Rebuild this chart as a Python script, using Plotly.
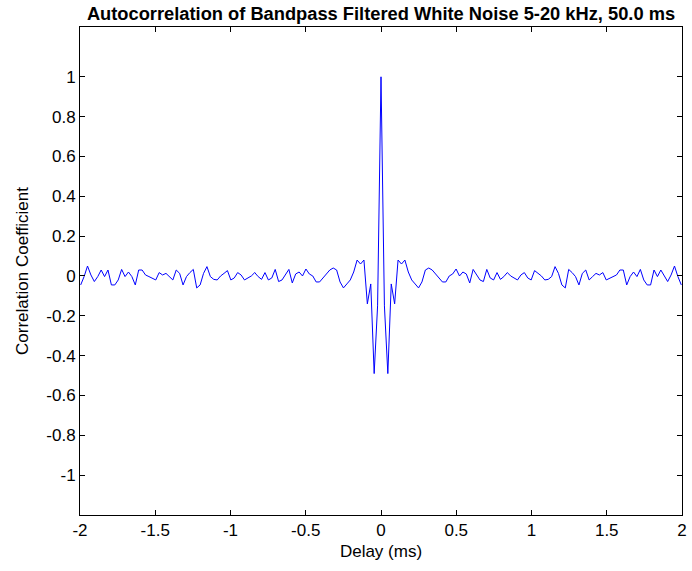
import numpy as np
import plotly.graph_objects as go

# Sample rate of the noise (kHz) -> delay step of one sample in ms
fs_khz = 44.1

# Autocorrelation values for non-negative lags k = 0..88 (symmetric about 0)
corr_center = [1.00, -0.15, -0.49, -0.04, -0.14, 0.08, 0.06, 0.08, 0.02, -0.02,
               -0.04, -0.06, -0.03, 0.03, 0.04, 0.03, 0.01]
corr_mid = [-0.01, -0.03, -0.03, 0.00, 0.01, 0.035, 0.00, 0.02, 0.01, -0.035,
            0.033, 0.005, -0.02, -0.028, 0.033, -0.01, -0.02, 0.017, -0.017, -0.003,
            0.017, 0.00, -0.012, -0.02, 0.005, 0.017, -0.01, -0.02, 0.027, 0.013,
            0.00, -0.02, -0.017, -0.003, 0.047, 0.013]
corr_tail = [-0.045, -0.06, 0.033, 0.017, -0.003, -0.045, 0.013, 0.03, -0.02, -0.003,
             0.013, 0.005, 0.017, -0.02, -0.012, -0.003, 0.005, 0.03, 0.03, -0.045,
             -0.003, 0.02, -0.003, 0.033, -0.02, -0.045, -0.045, 0.03, -0.003, 0.03,
             -0.003, -0.028, 0.005, 0.05, -0.003, -0.045]

x_tick_vals = [-2, -1.5, -1, -0.5, 0, 0.5, 1, 1.5, 2]
x_tick_text = ["-2", "-1.5", "-1", "-0.5", "0", "0.5", "1", "1.5", "2"]
y_tick_vals = [-1, -0.8, -0.6, -0.4, -0.2, 0, 0.2, 0.4, 0.6, 0.8, 1]
y_tick_text = ["-1", "-0.8", "-0.6", "-0.4", "-0.2", "0", "0.2", "0.4", "0.6", "0.8", "1"]

title_text = "Autocorrelation of Bandpass Filtered White Noise 5-20 kHz, 50.0 ms"
x_label = "Delay (ms)"
y_label = "Correlation Coefficient"

half = np.array(corr_center + corr_mid + corr_tail)
n = len(half) - 1
corr = np.concatenate([half[:0:-1], half])
lags = np.arange(-n, n + 1)
delay_ms = lags / fs_khz

font_family = "Liberation Sans Narrow, Arial Narrow, Liberation Sans, Arial, sans-serif"

fig = go.Figure()
fig.add_trace(go.Scatter(x=delay_ms, y=corr, mode="lines",
                         line=dict(color="rgb(0,0,255)", width=1),
                         hoverinfo="skip"))

axis_common = dict(showgrid=False, zeroline=False, showline=True, linecolor="black",
                   linewidth=1, mirror="ticks", ticks="inside", ticklen=5,
                   tickcolor="black", tickwidth=1,
                   tickfont=dict(family=font_family, size=17, color="black"))

fig.update_layout(
    width=692, height=571,
    margin=dict(l=80, r=5, t=27, b=56),
    paper_bgcolor="white", plot_bgcolor="white",
    showlegend=False,
    title=dict(text="<b>" + title_text + "</b>", x=0.5, xref="paper",
               xanchor="center", y=1 - 14 / 571, yref="container", yanchor="middle",
               font=dict(family=font_family, size=18.3, color="black")),
    xaxis=dict(range=[-2, 2], tickvals=x_tick_vals, ticktext=x_tick_text,
               title=dict(text=x_label, standoff=5,
                          font=dict(family=font_family, size=17, color="black")),
               **axis_common),
    yaxis=dict(range=[-1.2, 1.25], tickvals=y_tick_vals, ticktext=y_tick_text,
               title=dict(text=y_label, standoff=13,
                          font=dict(family=font_family, size=17, color="black")),
               **axis_common),
)

fig.write_html("out.html", config={"displayModeBar": False})
